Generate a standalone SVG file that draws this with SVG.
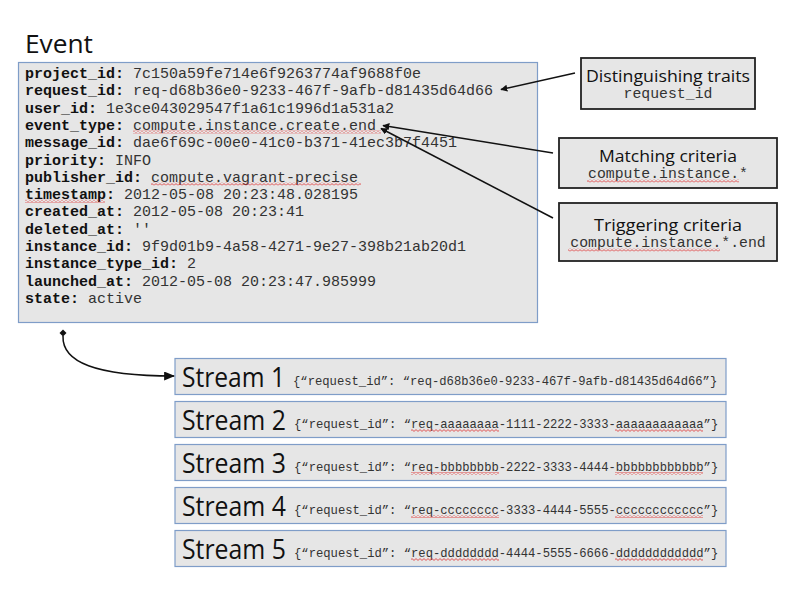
<svg xmlns="http://www.w3.org/2000/svg" width="800" height="600" viewBox="0 0 800 600">
<defs>
<style>
.bx{fill:#e6e6e6;stroke:#7f9dc8;stroke-width:1.2}
.cb{fill:#e6e6e6;stroke:#222;stroke-width:1.8}
.sans{font-family:"Open Sans","Noto Sans","DejaVu Sans",sans-serif;fill:#111}
.mono{font-family:"Liberation Mono","DejaVu Sans Mono",monospace;fill:#333}
.k{font-weight:bold;fill:#111}
.ev{font-size:15px}
.js{font-size:12.2px}
.ln{fill:none;stroke:#111;stroke-width:1.5}
.sq{fill:url(#sq)}
</style>
<marker id="ah" viewBox="0 0 10 10" refX="9" refY="5" markerWidth="7" markerHeight="7" markerUnits="userSpaceOnUse" orient="auto">
<path d="M0,0 L10,5 L0,10 z" fill="#111"/>
</marker>
<marker id="ah2" viewBox="0 0 10 10" refX="9" refY="5" markerWidth="11" markerHeight="9" markerUnits="userSpaceOnUse" orient="auto" preserveAspectRatio="none">
<path d="M0,0 L10,5 L0,10 z" fill="#111"/>
</marker>
<pattern id="sq" width="4" height="3" patternUnits="userSpaceOnUse">
<path d="M0,0.6 L2,2.4 L4,0.6" fill="none" stroke="#e03030" stroke-width="0.8"/>
</pattern>
</defs>
<rect width="800" height="600" fill="#ffffff"/>

<g id="event">
<text class="sans" x="25" y="53" font-size="25" textLength="68" lengthAdjust="spacingAndGlyphs">Event</text>
<rect class="bx" x="18.5" y="62.5" width="519" height="260"/>
<g class="mono ev">
<text x="25" y="78"><tspan class="k">project_id:</tspan> 7c150a59fe714e6f9263774af9688f0e</text>
<text x="25" y="95.3"><tspan class="k">request_id:</tspan> req-d68b36e0-9233-467f-9afb-d81435d64d66</text>
<text x="25" y="112.6"><tspan class="k">user_id:</tspan> 1e3ce043029547f1a61c1996d1a531a2</text>
<text x="25" y="129.9"><tspan class="k">event_type:</tspan> compute.instance.create.end</text>
<text x="25" y="147.2"><tspan class="k">message_id:</tspan> dae6f69c-00e0-41c0-b371-41ec3b7f4451</text>
<text x="25" y="164.5"><tspan class="k">priority:</tspan> INFO</text>
<text x="25" y="181.8"><tspan class="k">publisher_id:</tspan> compute.vagrant-precise</text>
<text x="25" y="199.1"><tspan class="k">timestamp:</tspan> 2012-05-08 20:23:48.028195</text>
<text x="25" y="216.4"><tspan class="k">created_at:</tspan> 2012-05-08 20:23:41</text>
<text x="25" y="233.7"><tspan class="k">deleted_at:</tspan> ''</text>
<text x="25" y="251"><tspan class="k">instance_id:</tspan> 9f9d01b9-4a58-4271-9e27-398b21ab20d1</text>
<text x="25" y="268.3"><tspan class="k">instance_type_id:</tspan> 2</text>
<text x="25" y="285.6"><tspan class="k">launched_at:</tspan> 2012-05-08 20:23:47.985999</text>
<text x="25" y="302.9"><tspan class="k">state:</tspan> active</text>
</g>
<rect class="sq" x="133" y="130.5" width="248" height="3"/>
<rect class="sq" x="151" y="182.5" width="210" height="3"/>
<rect class="sq" x="25" y="199.8" width="80" height="3"/>
</g>

<g id="distinguishing">
<rect class="cb" x="581" y="58" width="174" height="51"/>
<text class="sans" x="668" y="82" font-size="17" text-anchor="middle" textLength="164" lengthAdjust="spacingAndGlyphs">Distinguishing traits</text>
<text class="mono" x="668" y="97.5" font-size="14.8" text-anchor="middle">request_id</text>
</g>

<g id="matching">
<rect class="cb" x="559" y="138" width="218" height="50"/>
<text class="sans" x="668" y="161.5" font-size="17" text-anchor="middle" textLength="138" lengthAdjust="spacingAndGlyphs">Matching criteria</text>
<text class="mono" x="668" y="178" font-size="14.8" text-anchor="middle">compute.instance.*</text>
<rect class="sq" x="587" y="179.5" width="152" height="3"/>
</g>

<g id="triggering">
<rect class="cb" x="559" y="203" width="218" height="58"/>
<text class="sans" x="668" y="231" font-size="17" text-anchor="middle" textLength="148" lengthAdjust="spacingAndGlyphs">Triggering criteria</text>
<text class="mono" x="668" y="247" font-size="14.8" text-anchor="middle">compute.instance.*.end</text>
<rect class="sq" x="568" y="248.5" width="152" height="3"/>
</g>

<g id="stream1">
<rect class="bx" x="175" y="358.5" width="551" height="36"/>
<text class="sans" x="182" y="387" font-size="27" textLength="103" lengthAdjust="spacingAndGlyphs">Stream 1</text>
<text class="mono js" x="293" y="385">{“request_id”: “req-d68b36e0-9233-467f-9afb-d81435d64d66”}</text>
</g>
<g id="stream2">
<rect class="bx" x="175" y="401.5" width="551" height="36"/>
<text class="sans" x="182" y="430" font-size="27" textLength="104" lengthAdjust="spacingAndGlyphs">Stream 2</text>
<text class="mono js" x="294" y="428">{“request_id”: “req-aaaaaaaa-1111-2222-3333-aaaaaaaaaaaa”}</text>
<rect class="sq" x="411" y="429" width="88" height="3"/>
<rect class="sq" x="615" y="429" width="88" height="3"/>
</g>
<g id="stream3">
<rect class="bx" x="175" y="444.5" width="551" height="36"/>
<text class="sans" x="182" y="473" font-size="27" textLength="104" lengthAdjust="spacingAndGlyphs">Stream 3</text>
<text class="mono js" x="294" y="471">{“request_id”: “req-bbbbbbbb-2222-3333-4444-bbbbbbbbbbbb”}</text>
<rect class="sq" x="411" y="472" width="88" height="3"/>
<rect class="sq" x="615" y="472" width="88" height="3"/>
</g>
<g id="stream4">
<rect class="bx" x="175" y="487.5" width="551" height="36"/>
<text class="sans" x="182" y="516" font-size="27" textLength="104" lengthAdjust="spacingAndGlyphs">Stream 4</text>
<text class="mono js" x="294" y="514">{“request_id”: “req-cccccccc-3333-4444-5555-cccccccccccc”}</text>
<rect class="sq" x="411" y="515" width="88" height="3"/>
<rect class="sq" x="615" y="515" width="88" height="3"/>
</g>
<g id="stream5">
<rect class="bx" x="175" y="530.5" width="551" height="36"/>
<text class="sans" x="182" y="559" font-size="27" textLength="104" lengthAdjust="spacingAndGlyphs">Stream 5</text>
<text class="mono js" x="294" y="557">{“request_id”: “req-dddddddd-4444-5555-6666-dddddddddddd”}</text>
<rect class="sq" x="411" y="558" width="88" height="3"/>
<rect class="sq" x="615" y="558" width="88" height="3"/>
</g>

<g id="connectors">
<line class="ln" x1="575" y1="73" x2="501" y2="89.5" marker-end="url(#ah)"/>
<line class="ln" x1="553" y1="153" x2="383" y2="125.5" marker-end="url(#ah)"/>
<line class="ln" x1="553" y1="218" x2="381" y2="128.5" marker-end="url(#ah)"/>
<path d="M63,333 L66.5,329.5 L63,326 L59.5,329.5 z" transform="translate(0,3.5)" fill="#111"/>
<path class="ln" stroke-width="1.1" d="M63,336 C62,362 95,376 174,376" marker-end="url(#ah2)"/>
</g>
</svg>
